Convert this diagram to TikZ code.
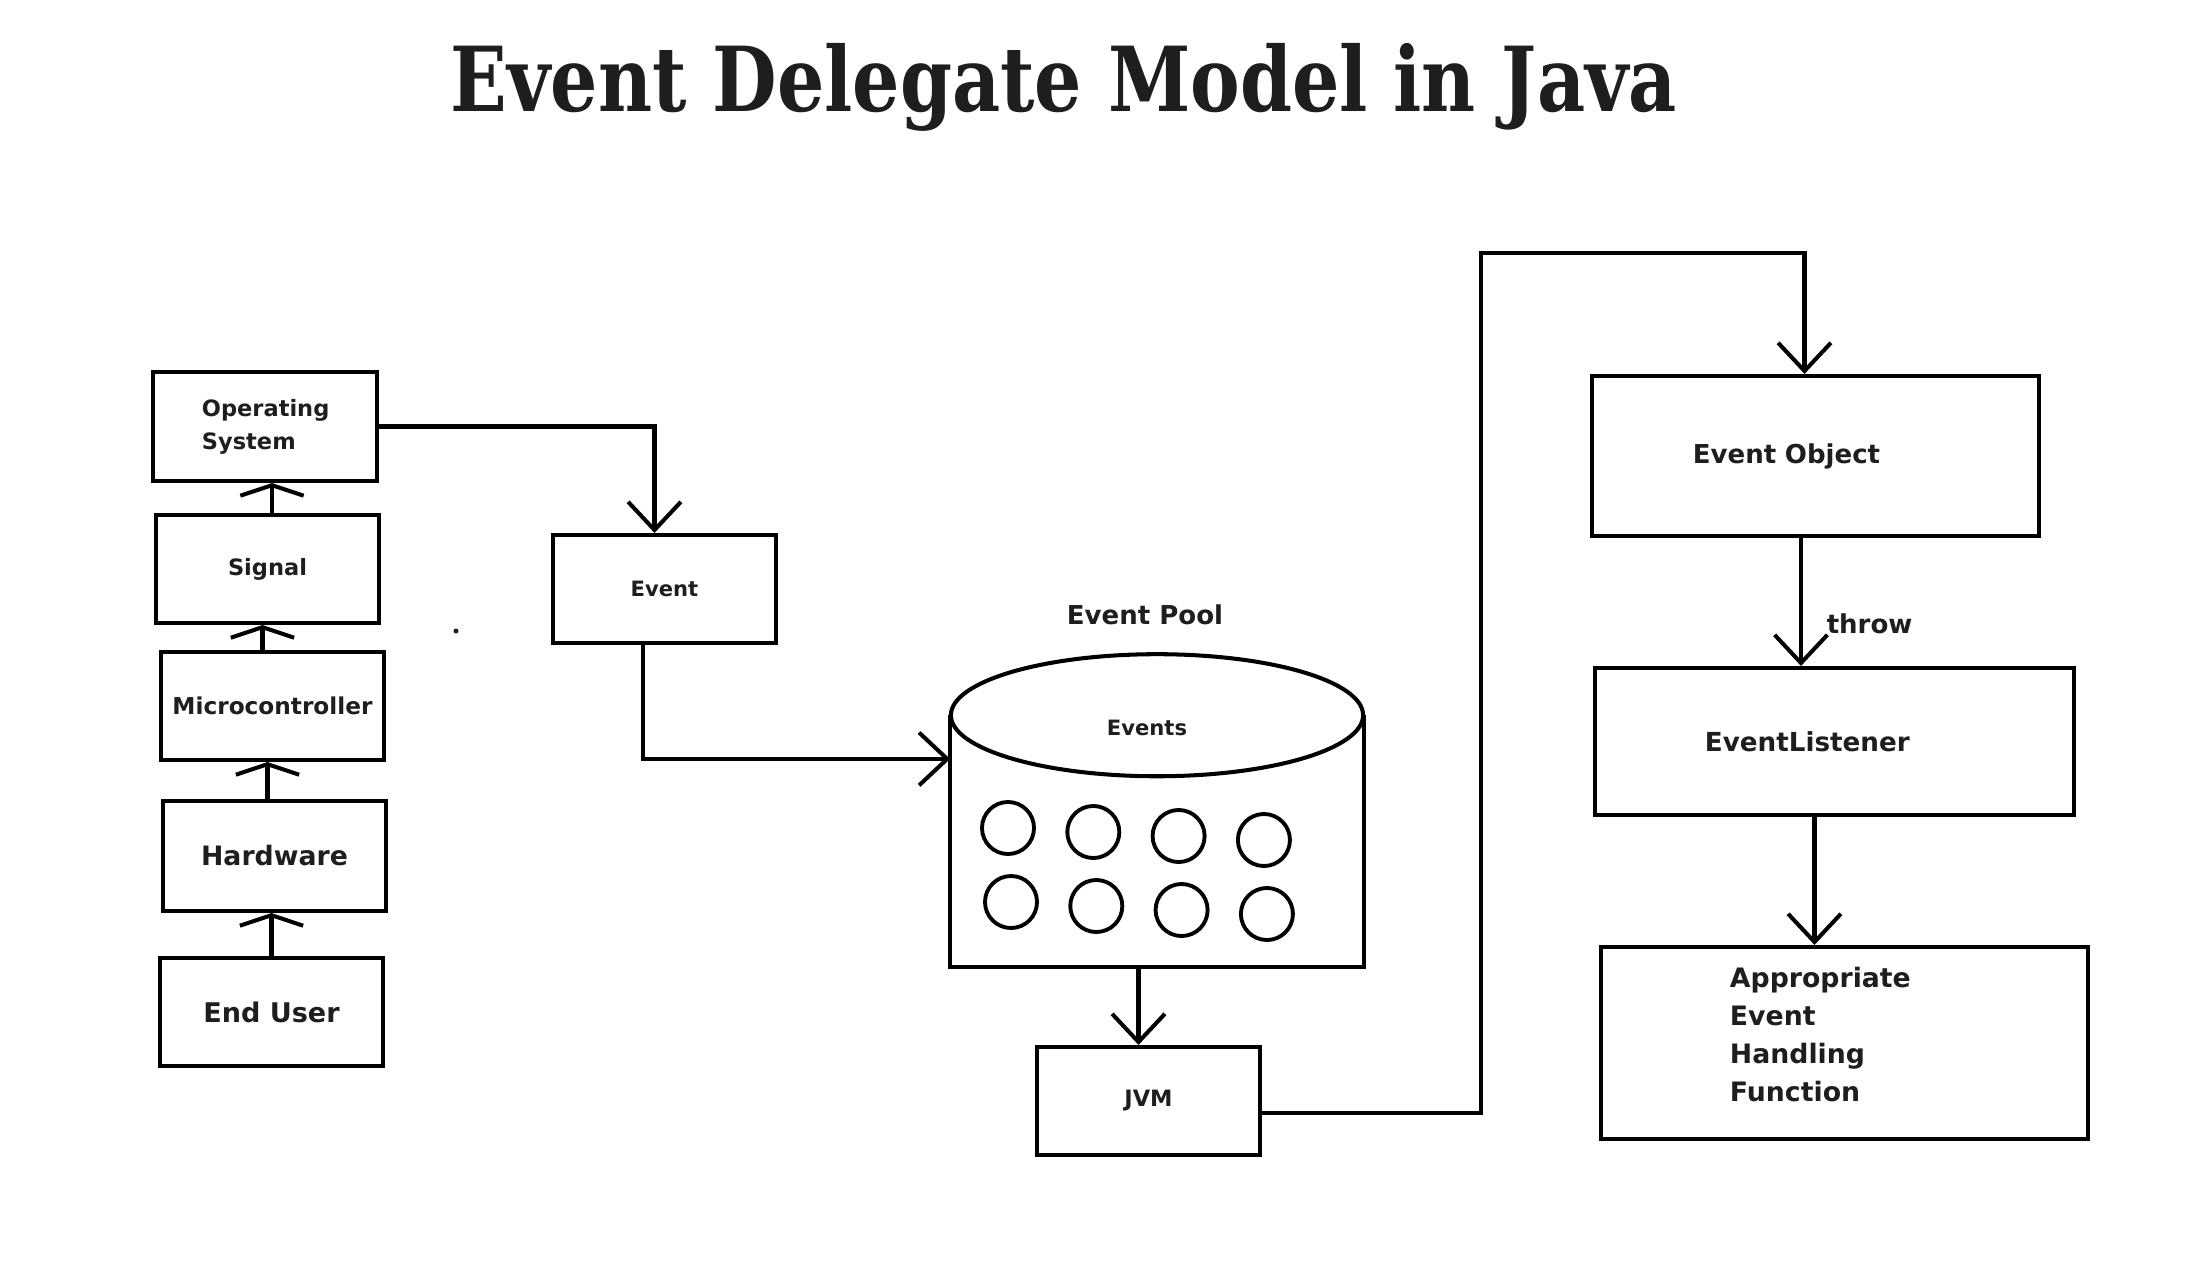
\documentclass[tikz,border=0pt]{standalone}
\usepackage{fontspec}
\setmainfont{DejaVu Sans}
\newfontfamily\titlefont{DejaVu Serif}[FakeStretch=0.83]
\usepackage{tikz}
\usetikzlibrary{arrows.meta, positioning, calc}
\definecolor{ink}{RGB}{30, 30, 30}
\tikzset{
  box/.style={draw, line width=1.15pt, inner sep=0pt, text=ink, align=center},
  arr/.style={line width=1.15pt, -{Straight Barb[length=8pt, width=15pt]}},
  uparr/.style={line width=1.15pt, -{Straight Barb[length=3pt, width=18pt]}},
}
\begin{document}
\begin{tikzpicture}[x=0.01cm, y=-0.01cm]
  \useasboundingbox (0,0) rectangle (2200,1276);
  \node[anchor=base, text=ink, font=\titlefont\bfseries\fontsize{25.5}{30}\selectfont]
    (title) at (1064,112) {Event Delegate Model in Java};

  % left column
  \node[box, minimum width=2.24cm, minimum height=1.09cm, text width=1.26cm, align=left,
        font=\bfseries\fontsize{6.4}{9.4}\selectfont]
    (os) at (265,426.5) {Operating\\System};
  \node[box, minimum width=2.23cm, minimum height=1.08cm, font=\bfseries\fontsize{6.4}{9}\selectfont]
    (signal) at (267.5,569) {Signal};
  \node[box, minimum width=2.23cm, minimum height=1.08cm, font=\bfseries\fontsize{6.6}{9}\selectfont]
    (micro) at (272.5,706) {Microcontroller};
  \node[box, minimum width=2.23cm, minimum height=1.10cm, font=\bfseries\fontsize{7.6}{9}\selectfont]
    (hw) at (274.5,856) {Hardware};
  \node[box, minimum width=2.23cm, minimum height=1.08cm, font=\bfseries\fontsize{7.7}{9}\selectfont]
    (user) at (271.5,1012) {End User};
  \fill[ink] (456,631) circle (0.025cm);

  \draw[uparr] (user.north) -- (user.north |- hw.south);
  \coordinate (hwout) at ([xshift=-0.07cm]hw.north);
  \draw[uparr] (hwout) -- (hwout |- micro.south);
  \coordinate (microout) at ([xshift=-0.1cm]micro.north);
  \draw[uparr] (microout) -- (microout |- signal.south);
  \coordinate (signalout) at ([xshift=0.045cm]signal.north);
  \draw[uparr] (signalout) -- (signalout |- os.south);

  % event and pool
  \node[box, minimum width=2.23cm, minimum height=1.08cm, font=\bfseries\fontsize{6}{8}\selectfont]
    (event) at (664.5,589) {Event};
  \draw[arr] (os.east) -| ([xshift=-0.1cm]event.north);

  \node[minimum width=4.12cm, minimum height=2.5cm, inner sep=0pt] (pool) at (1157,841) {};
  \draw[line width=1.15pt] (pool.north west) -- (pool.south west) -- (pool.south east) -- (pool.north east);
  \draw[line width=1.15pt, fill=white] (pool.north) ellipse [x radius=2.06cm, y radius=0.61cm];
  \node[text=ink, font=\bfseries\fontsize{6}{8}\selectfont] (events) at (1147,728) {Events};
  \node[text=ink, font=\bfseries\fontsize{7.4}{9}\selectfont] (pooltitle) at (1145,615) {Event Pool};
  \foreach \i in {0,...,3}
    \foreach \j in {0,1}
      \draw[line width=1.1pt] ({1008+85.3*\i+3*\j},{828+4*\i+74*\j}) circle (0.26cm);

  \coordinate (poolin) at ([yshift=0.82cm]pool.west);
  \draw[arr] ([xshift=-0.215cm]event.south) |- (poolin);

  \node[box, minimum width=2.23cm, minimum height=1.08cm, font=\bfseries\fontsize{6.4}{8}\selectfont]
    (jvm) at (1148.5,1101) {JVM};
  \coordinate (jvmin) at ([xshift=-0.1cm]jvm.north);
  \draw[arr] (jvmin |- pool.south) -- (jvmin);

  % right column
  \node[box, minimum width=4.47cm, minimum height=1.60cm, text width=2.45cm, align=left,
        font=\bfseries\fontsize{7.4}{9}\selectfont]
    (eo) at (1815.5,456) {Event Object};
  \node[box, minimum width=4.79cm, minimum height=1.47cm, text width=2.59cm, align=left,
        font=\bfseries\fontsize{7.45}{9}\selectfont]
    (el) at (1834.5,741.5) {EventListener};
  \node[box, minimum width=4.87cm, minimum height=1.92cm, text width=2.29cm, align=left,
        font=\bfseries\fontsize{7.6}{10.8}\selectfont]
    (app) at (1844.5,1043) {Appropriate\\Event\\Handling\\Function\\[-9pt]\strut};

  \coordinate (bend) at (1481,253);
  \draw[arr] ([yshift=-0.12cm]jvm.east) -| (bend) -| ([xshift=-0.11cm]eo.north);
  \coordinate (eoout) at ([xshift=-0.145cm]eo.south);
  \draw[arr] (eoout) -- (eoout |- el.north)
    node[pos=0.67, right=0.12cm, text=ink, font=\bfseries\fontsize{7.4}{9}\selectfont] (throwlbl) {throw};
  \coordinate (elout) at ([xshift=-0.2cm]el.south);
  \draw[arr] (elout) -- (elout |- app.north);
\end{tikzpicture}
\end{document}
